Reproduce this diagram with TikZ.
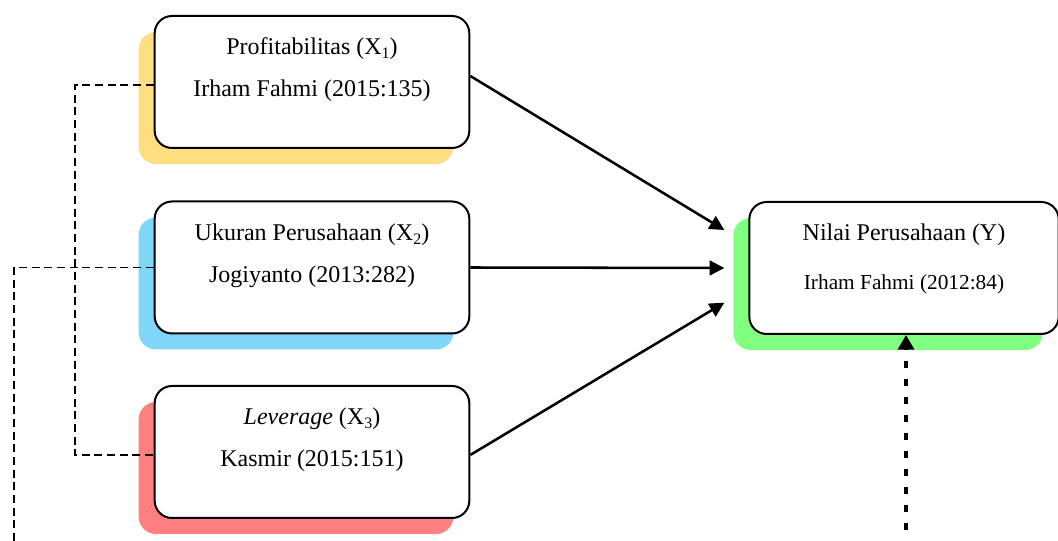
\documentclass[tikz,border=0pt]{standalone}
\usepackage{fontspec}
\setmainfont{Liberation Serif}
\usetikzlibrary{arrows.meta,shadows}

\definecolor{shyellow}{RGB}{255,222,128}
\definecolor{shblue}{RGB}{128,214,247}
\definecolor{shred}{RGB}{255,128,128}
\definecolor{shgreen}{RGB}{128,255,128}

\newcommand{\subidx}[1]{\raisebox{-0.3ex}{\fontsize{12}{12}\selectfont #1}}

\begin{document}
\begin{tikzpicture}[x=0.75pt, y=-0.75pt,
    varbox/.style={draw, line width=1.5pt, rounded corners=13pt, fill=white,
      minimum width=236pt, minimum height=99pt, inner sep=0pt,
      general shadow={fill=#1, shadow xshift=-12pt, shadow yshift=-12pt}},
    txt/.style={anchor=base, font=\fontsize{18}{20}\selectfont, inner sep=0pt},
    smalltxt/.style={anchor=base, font=\fontsize{16}{18}\selectfont, inner sep=0pt},
    link/.style={line width=1.9pt, -{Triangle[length=11pt,width=11pt]}},
    thin dash/.style={line width=1.4pt, dash pattern=on 6pt off 3.5pt},
    thick dash/.style={line width=2.6pt, dash pattern=on 5.5pt off 8pt,
      -{Triangle[length=11pt,width=12pt]}}]
  \useasboundingbox (0,0) rectangle (1058,541);

  % variable boxes
  \node[varbox=shyellow] (x1) at (312,82) {};
  \node[varbox=shblue] (x2) at (312,267.5) {};
  \node[varbox=shred] (x3) at (312,452) {};
  \node[varbox=shgreen, minimum width=232pt] (y) at (904,268) {};

  \node[txt] (x1a) at (312,55) {Profitabilitas (X\subidx{1})};
  \node[txt] (x1b) at (312,97) {Irham Fahmi (2015:135)};
  \node[txt] (x2a) at (312,241) {Ukuran Perusahaan (X\subidx{2})};
  \node[txt] (x2b) at (312,282.5) {Jogiyanto (2013:282)};
  \node[txt] (x3a) at (312,425) {\textit{Leverage} (X\subidx{3})};
  \node[txt] (x3b) at (312,467) {Kasmir (2015:151)};
  \node[txt] (ya) at (904,241) {Nilai Perusahaan (Y)};
  \node[smalltxt] (yb) at (904,290) {Irham Fahmi (2012:84)};

  % arrows to Y
  \draw[link] ([yshift=4.5pt]x1.east) -- ([shift={(-18pt,28.5pt)}]y.west);
  \draw[link] (x2.east) -- ([xshift=-18pt]y.west);
  \draw[link] ([yshift=-2.2pt]x3.east) -- ([shift={(-18pt,-26pt)}]y.west);

  % dashed links
  \coordinate (bl) at (14,548);
  \coordinate (br) at (906,548);
  \draw[thin dash] ([yshift=-2.2pt]x1.west) -- ++(-79,0) |- ([yshift=-2.2pt]x3.west);
  \draw[thin dash] (x2.west) -| (bl);
  \draw[thick dash] (br) -- (br |- y.south);
\end{tikzpicture}
\end{document}
